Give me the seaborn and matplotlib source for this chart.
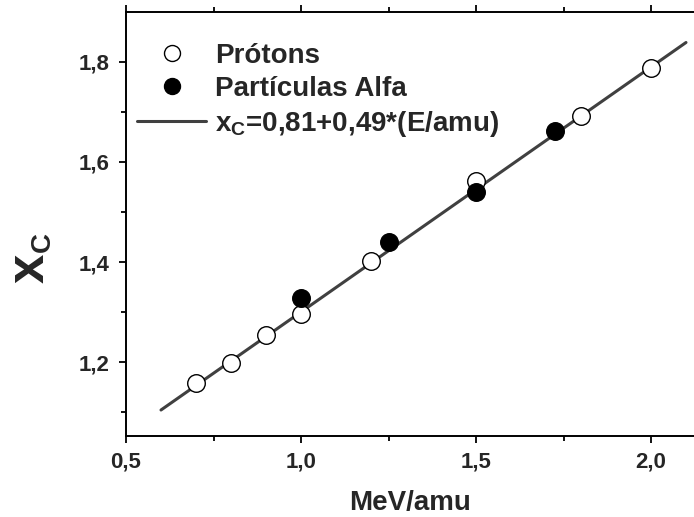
import matplotlib
matplotlib.use("Agg")
import matplotlib.pyplot as plt
import seaborn as sns
import pandas as pd
from matplotlib.ticker import FixedLocator
from matplotlib.lines import Line2D

# Data
proton_x = [0.7, 0.8, 0.9, 1.0, 1.2, 1.5, 1.8, 2.0]
proton_y = [1.159, 1.199, 1.255, 1.296, 1.401, 1.562, 1.691, 1.789]
alpha_x = [1.0, 1.25, 1.5, 1.725]
alpha_y = [1.329, 1.440, 1.541, 1.661]
fit_x = [0.6, 2.1]
fit_y = [1.104, 1.839]

xticks = [0.5, 1.0, 1.5, 2.0]
xtick_labels = ["0,5", "1,0", "1,5", "2,0"]
yticks = [1.2, 1.4, 1.6, 1.8]
ytick_labels = ["1,2", "1,4", "1,6", "1,8"]
xminor = [0.75, 1.25, 1.75]
yminor = [1.1, 1.3, 1.5, 1.7]

sns.set_theme(style="ticks")
plt.rcParams["font.family"] = ["Liberation Sans", "DejaVu Sans"]
plt.rcParams["mathtext.fontset"] = "custom"
plt.rcParams["mathtext.bf"] = "Liberation Sans:bold"
plt.rcParams["mathtext.rm"] = "Liberation Sans:bold"

fig = plt.figure(figsize=(6.94, 5.17), dpi=100)
ax = fig.add_axes([126 / 694, 1 - 436 / 517, 1 - 126 / 694, (436 - 12) / 517])

df_p = pd.DataFrame({"x": proton_x, "y": proton_y})
df_a = pd.DataFrame({"x": alpha_x, "y": alpha_y})
df_f = pd.DataFrame({"x": fit_x, "y": fit_y})

line_color = "#404040"
sns.lineplot(data=df_f, x="x", y="y", ax=ax, color=line_color, linewidth=2.2, zorder=1)
sns.scatterplot(data=df_p, x="x", y="y", ax=ax, s=160, facecolor="white",
                edgecolor="black", linewidth=1.0, zorder=2)
sns.scatterplot(data=df_a, x="x", y="y", ax=ax, s=160, facecolor="black",
                edgecolor="black", linewidth=1.0, zorder=3)

ax.set_xlim(0.5, 0.5 + 568 / 350)
ax.set_ylim(1.052, 1.9)

ax.xaxis.set_major_locator(FixedLocator(xticks))
ax.yaxis.set_major_locator(FixedLocator(yticks))
ax.xaxis.set_minor_locator(FixedLocator(xminor))
ax.yaxis.set_minor_locator(FixedLocator(yminor))
ax.set_xticklabels(xtick_labels, fontsize=16, fontweight="bold")
ax.set_yticklabels(ytick_labels, fontsize=16, fontweight="bold")
ax.tick_params(axis="both", which="major", direction="out", length=5, width=1.3, color="black")
ax.tick_params(axis="x", which="major", pad=6)
ax.tick_params(axis="y", which="major", pad=7)
ax.tick_params(axis="both", which="minor", direction="out", length=3.5, width=1.3, color="black")
ax.tick_params(axis="x", which="both", top=True, labeltop=False)

for side in ["left", "bottom", "top"]:
    ax.spines[side].set_visible(True)
    ax.spines[side].set_linewidth(1.4)
    ax.spines[side].set_color("black")
ax.spines["right"].set_visible(False)

ax.set_xlabel("MeV/amu", fontsize=20, fontweight="bold", labelpad=13)
ax.set_ylabel("")

# y label x_C
ax.text(-0.169, 0.395, "x", transform=ax.transAxes, rotation=90, fontsize=38,
        fontweight="bold", ha="center", va="center")
ax.text(-0.146, 0.457, "C", transform=ax.transAxes, rotation=90, fontsize=20,
        fontweight="bold", ha="center", va="center")

handles = [
    Line2D([], [], linestyle="none", marker="o", markersize=11.5, markerfacecolor="white",
           markeredgecolor="black", markeredgewidth=1.0),
    Line2D([], [], linestyle="none", marker="o", markersize=11.5, markerfacecolor="black",
           markeredgecolor="black", markeredgewidth=1.0),
    Line2D([], [], color=line_color, linewidth=2.2),
]
labels = ["Prótons", "Partículas Alfa", r"x$_{\mathbf{C}}$=0,81+0,49*(E/amu)"]
leg = ax.legend(handles, labels, loc="upper left", bbox_to_anchor=(11 / 568, 0.928),
                frameon=False, borderaxespad=0, borderpad=0, handlelength=2.5,
                handletextpad=0.3, labelspacing=0.26,
                prop={"size": 20, "weight": "bold"})

fig.savefig("out.png", dpi=100)
